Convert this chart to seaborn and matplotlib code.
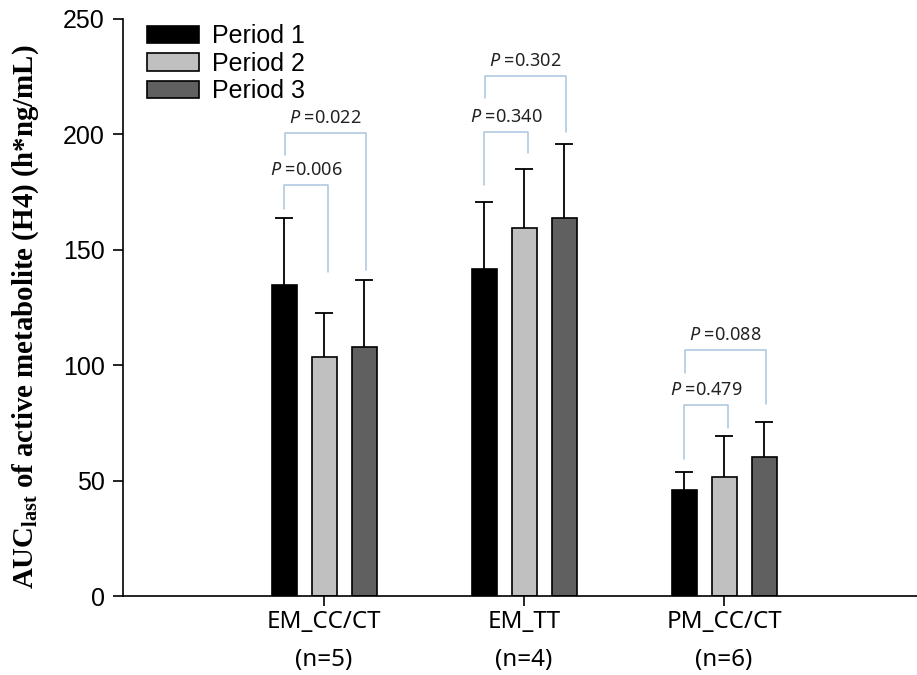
import matplotlib
matplotlib.use("Agg")
import matplotlib.pyplot as plt
import matplotlib.patches as mpatches
import numpy as np
import pandas as pd
import seaborn as sns

# ---- data ----
groups = ["EM_CC/CT", "EM_TT", "PM_CC/CT"]
group_n = ["(n=5)", "(n=4)", "(n=6)"]
periods = ["Period 1", "Period 2", "Period 3"]
mean_p1 = [134.7, 141.5, 45.9]
mean_p2 = [103.7, 159.3, 51.6]
mean_p3 = [107.8, 163.8, 60.4]
sd_p1 = [28.9, 29.2, 7.7]
sd_p2 = [19.0, 25.9, 17.7]
sd_p3 = [29.1, 32.2, 15.1]
p_inner = ["0.006", "0.340", "0.479"]   # Period 1 vs Period 2
p_outer = ["0.022", "0.302", "0.088"]   # Period 1 vs Period 3
yticks = [0, 50, 100, 150, 200, 250]

# bracket geometry (annotation layout, data units)
inner_top = [178.1, 201.2, 82.8]
inner_left_bottom = [167.7, 178.1, 59.2]
inner_right_bottom = [140.5, 191.9, 72.9]
outer_top = [200.6, 225.3, 106.6]
outer_left_bottom = [191.1, 215.8, 96.8]
outer_right_bottom = [141.2, 201.2, 83.2]

means = [mean_p1, mean_p2, mean_p3]
sds = [sd_p1, sd_p2, sd_p3]
rows = []
for pi, per in enumerate(periods):
    for gi, g in enumerate(groups):
        rows.append({"group": g, "period": per, "value": means[pi][gi]})
df = pd.DataFrame(rows)

sns.set_style("ticks")
plt.rcParams["font.family"] = ["Liberation Sans", "DejaVu Sans"]
plt.rcParams["mathtext.fontset"] = "custom"
plt.rcParams["mathtext.rm"] = "Liberation Serif:bold"
plt.rcParams["mathtext.bf"] = "Liberation Serif:bold"
plt.rcParams["mathtext.it"] = "Noto Sans:italic"
for k in ["text.color", "axes.labelcolor", "xtick.color", "ytick.color", "axes.edgecolor"]:
    plt.rcParams[k] = "black"

colors = ["#000000", "#c0c0c0", "#606060"]

fig = plt.figure(figsize=(9.17, 6.75), dpi=100)
ax = fig.add_axes([123 / 917, 79 / 675, 794 / 917, 577 / 675])

sns.barplot(data=df, x="group", y="value", hue="period", palette=colors,
            width=0.6, gap=0.375, edgecolor="black", linewidth=1.2,
            errorbar=None, saturation=1, ax=ax, legend=False, zorder=2)

# one-sided (upper) error bars
cap = 0.045
for pi, cont in enumerate(ax.containers):
    for gi, bar in enumerate(cont):
        x = bar.get_x() + bar.get_width() / 2
        top = bar.get_height()
        ax.vlines(x, top, top + sds[pi][gi], color="black", lw=1.3, zorder=3)
        ax.hlines(top + sds[pi][gi], x - cap, x + cap, color="black", lw=1.3, zorder=3)

# significance brackets
bc = "#a9c6de"
for gi in range(len(groups)):
    xs = [ax.containers[k][gi].get_x() + ax.containers[k][gi].get_width() / 2 for k in range(3)]
    xl = xs[0]
    xr_in = xs[1] + 0.02
    xr_out = xs[2] + 0.01
    ax.plot([xl, xl, xr_in, xr_in],
            [inner_left_bottom[gi], inner_top[gi], inner_top[gi], inner_right_bottom[gi]],
            color=bc, lw=1.1, zorder=1)
    ax.plot([xl + 0.005, xl + 0.005, xr_out, xr_out],
            [outer_left_bottom[gi], outer_top[gi], outer_top[gi], outer_right_bottom[gi]],
            color=bc, lw=1.1, zorder=1)
    ax.text((xl + xr_in) / 2, inner_top[gi] + 2.5, r"$P$ =" + p_inner[gi],
            ha="center", va="bottom", fontsize=13, family="Noto Sans", color="#222222")
    ax.text((xl + xr_out) / 2, outer_top[gi] + 2.5, r"$P$ =" + p_outer[gi],
            ha="center", va="bottom", fontsize=13, family="Noto Sans", color="#222222")

ax.set_ylim(0, 250)
ax.set_xlim(-1.005, 2.965)
ax.set_yticks(yticks)
ax.set_yticklabels([str(t) for t in yticks], fontsize=18)
ax.set_xticks(range(len(groups)))
ax.set_xticklabels([f"{g}\n{n}" for g, n in zip(groups, group_n)],
                   fontsize=17.4, family="Noto Sans", linespacing=1.8)
ax.tick_params(axis="y", length=7, width=1.2, pad=6)
ax.tick_params(axis="x", length=7, width=1.2, pad=3)
ax.set_xlabel("")
for s in ["top", "right"]:
    ax.spines[s].set_visible(False)
for s in ["left", "bottom"]:
    ax.spines[s].set_linewidth(1.2)

ax.set_ylabel(r"$\mathrm{AUC}_{\mathrm{last}}$ of active metabolite (H4) (h*ng/mL)",
              family="Liberation Serif", fontweight="bold", fontsize=20.8)
ax.yaxis.set_label_coords(-0.122, 0.4835)
ax.yaxis.label.set_va("center")

handles = [mpatches.Patch(facecolor=c, edgecolor="black", lw=1.2) for c in colors]
ax.legend(handles, periods, loc="upper left", bbox_to_anchor=(147 / 917, 1 - 24 / 675),
          bbox_transform=fig.transFigure, frameon=False, borderpad=0, borderaxespad=0,
          fontsize=18, handlelength=2.08, handleheight=0.68, handletextpad=0.5,
          labelspacing=0.15)

fig.savefig("out.png", dpi=100)
